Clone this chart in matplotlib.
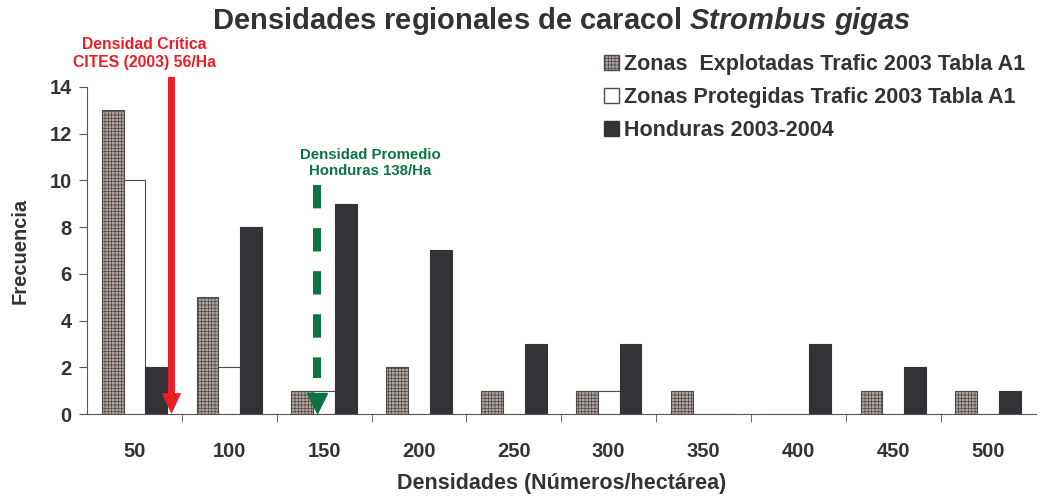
import numpy as np
import matplotlib
matplotlib.use('Agg')
import matplotlib.pyplot as plt
from matplotlib.patches import Patch

plt.rcParams['font.family'] = ['Liberation Sans', 'DejaVu Sans']
plt.rcParams['mathtext.fontset'] = 'custom'
plt.rcParams['mathtext.it'] = 'Liberation Sans:bold:italic'
plt.rcParams['hatch.linewidth'] = 0.5

categorias = ['50', '100', '150', '200', '250', '300', '350', '400', '450', '500']
explotadas = [13, 5, 1, 2, 1, 1, 1, 0, 1, 1]
protegidas = [10, 2, 1, 0, 0, 1, 0, 0, 0, 0]
honduras = [2, 8, 9, 7, 3, 3, 0, 3, 2, 1]

txt = '#333333'
fig = plt.figure(figsize=(10.4, 4.97), dpi=100)
ax = fig.add_axes([0.0837, 0.167, 0.912, 0.658])

x = np.arange(len(categorias))
w = 0.23
ax.bar(x - w, explotadas, w, color='#b0a29d', edgecolor='#4a4a4a', hatch='+++++', linewidth=0.8)
ax.bar(x, protegidas, w, color='white', edgecolor='#4a4a4a', linewidth=0.8)
ax.bar(x + w, honduras, w, color='#333236', edgecolor='#333236', linewidth=0.8)

ax.set_xlim(-0.5, len(categorias) - 0.5)
ax.set_ylim(0, 14)
ax.set_yticks(range(0, 15, 2))
ax.set_xticks(x)
ax.set_xticklabels(categorias)
ax.set_xticks(np.arange(0.5, len(categorias) - 0.5, 1), minor=True)
ax.tick_params(axis='x', which='major', length=0, pad=20)
ax.tick_params(axis='x', which='minor', length=6, color='#555555')
ax.tick_params(axis='y', length=6, color='#555555', pad=5)
for lab in ax.get_xticklabels() + ax.get_yticklabels():
    lab.set_fontweight('bold')
    lab.set_fontsize(14.5)
    lab.set_color(txt)
for s in ['top', 'right']:
    ax.spines[s].set_visible(False)
for s in ['left', 'bottom']:
    ax.spines[s].set_color('#555555')

ax.set_xlabel('Densidades (Números/hectárea)', fontsize=15.5, fontweight='bold', color=txt, labelpad=9)
ax.set_ylabel('Frecuencia', fontsize=14.5, fontweight='bold', color=txt, labelpad=14)

fig.text(0.54, 0.958, r'Densidades regionales de caracol $\it{Strombus\ gigas}$',
         ha='center', va='center', fontsize=21, fontweight='bold', color=txt)

# flecha roja (densidad critica CITES)
ax.annotate('', xy=(0.39, 0), xytext=(0.39, 14.43), annotation_clip=False,
            arrowprops=dict(facecolor='#ee1c25', edgecolor='none', width=5,
                            headwidth=14, headlength=15, shrink=0))
fig.text(0.139, 0.893, 'Densidad Crítica\nCITES (2003) 56/Ha', ha='center', va='center',
         fontsize=11.3, fontweight='bold', color='#ee1c25', linespacing=1.25)

# flecha verde discontinua (promedio Honduras)
ax.plot([1.92, 1.92], [9.8, 1.54], color='#0b7442', lw=5.8, dashes=(2.9, 2.45),
        solid_capstyle='butt', dash_capstyle='butt')
ax.plot([1.92], [0.47], marker='v', markersize=15, color='#0b7442', linestyle='none')
fig.text(0.356, 0.672, 'Densidad Promedio\nHonduras 138/Ha', ha='center', va='center',
         fontsize=10.8, fontweight='bold', color='#0b7442', linespacing=1.25)

handles = [Patch(facecolor='#b0a29d', edgecolor='#4a4a4a', hatch='+++++'),
           Patch(facecolor='white', edgecolor='#4a4a4a'),
           Patch(facecolor='#333236', edgecolor='#333236')]
labels = ['Zonas  Explotadas Trafic 2003 Tabla A1',
          'Zonas Protegidas Trafic 2003 Tabla A1',
          'Honduras 2003-2004']
leg = fig.legend(handles, labels, loc='upper left', bbox_to_anchor=(0.562, 0.93),
                 frameon=False, handlelength=0.7, handleheight=0.7, handletextpad=0.25,
                 labelspacing=0.55, prop={'weight': 'bold', 'size': 15.5})
for t in leg.get_texts():
    t.set_color(txt)

fig.savefig('out.png', dpi=100)
